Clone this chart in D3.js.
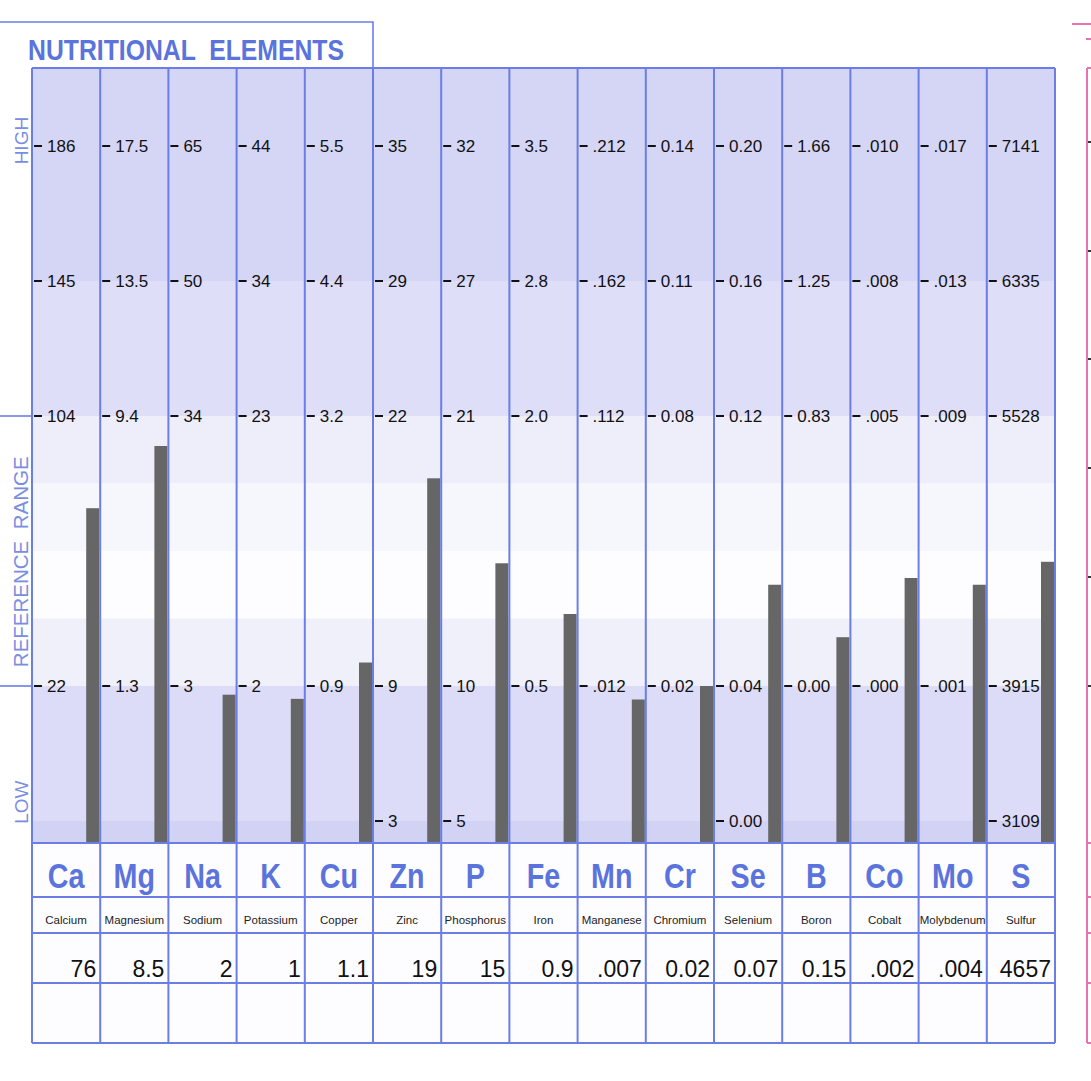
<!DOCTYPE html>
<html>
<head>
<meta charset="utf-8">
<script src="https://cdn.jsdelivr.net/npm/d3@7"></script>
<style>
  html, body { margin: 0; padding: 0; background: #ffffff; }
  svg { display: block; }
</style>
</head>
<body>
<svg id="chart" width="1091" height="1081"></svg>
<script>
// ---------------- DATA ----------------
const symbols = ["Ca","Mg","Na","K","Cu","Zn","P","Fe","Mn","Cr","Se","B","Co","Mo","S"];
const names = ["Calcium","Magnesium","Sodium","Potassium","Copper","Zinc","Phosphorus","Iron","Manganese","Chromium","Selenium","Boron","Cobalt","Molybdenum","Sulfur"];
const values = [76, 8.5, 2, 1, 1.1, 19, 15, 0.9, 0.007, 0.02, 0.07, 0.15, 0.002, 0.004, 4657];
const valueLabels = ["76","8.5","2","1","1.1","19","15","0.9",".007","0.02","0.07","0.15",".002",".004","4657"];
// tick labels per reference level (5 = top of HIGH ... 0 = bottom of LOW)
const ticksLevel5 = ["186","17.5","65","44","5.5","35","32","3.5",".212","0.14","0.20","1.66",".010",".017","7141"];
const ticksLevel4 = ["145","13.5","50","34","4.4","29","27","2.8",".162","0.11","0.16","1.25",".008",".013","6335"];
const ticksLevel3 = ["104","9.4","34","23","3.2","22","21","2.0",".112","0.08","0.12","0.83",".005",".009","5528"];
const ticksLevel1 = ["22","1.3","3","2","0.9","9","10","0.5",".012","0.02","0.04","0.00",".000",".001","3915"];
const ticksLevel0 = ["","","","","","3","5","","","","0.00","","","","3109"];
const tickLevels = [5, 4, 3, 1, 0];
// background zones in level units
const zoneBreaks = [6, 4, 3, 2.5, 2, 1.5, 1, 0, -1];
const zoneColors = ["#d5d5f6","#dedef9","#eeeefb","#f6f6fd","#fdfdff","#f0f0fb","#dcdcf8","#d2d2f4"];
const sideLabels = ["HIGH","REFERENCE  RANGE","LOW"];
const sideLabelLevels = [5.04, 1.92, 0.14];
const title = "NUTRITIONAL  ELEMENTS";

// ---------------- LAYOUT ----------------
const svg = d3.select("#chart");
const pLeft = 32, pRight = 1055, pTop = 68, plotBottom = 843;
const rowLines = [843, 897, 933, 983, 1043];
const gridColor = "#6a7ee6";
const titleColor = "#5b73dc";
const sideColor = "#7b8de2";
const barColor = "#666666";

const x = d3.scaleBand().domain(symbols).range([pLeft, pRight]).padding(0);
const yLevel = d3.scaleLinear().domain([0, 5]).range([821, 146]);

const tickRows = [ticksLevel5, ticksLevel4, ticksLevel3, ticksLevel1, ticksLevel0];
const cols = symbols.map((s, i) => {
  const ticks = [];
  tickRows.forEach((row, r) => {
    if (row[i] !== "") ticks.push({label: row[i], value: parseFloat(row[i]), level: tickLevels[r]});
  });
  const scale = d3.scaleLinear()
    .domain(ticks.map(t => t.value))
    .range(ticks.map(t => yLevel(t.level)));
  return {sym: s, name: names[i], value: values[i], vlabel: valueLabels[i], ticks, scale};
});

const plot = svg.append("g");
svg.append("clipPath").attr("id", "plotclip")
  .append("rect").attr("x", pLeft).attr("y", pTop).attr("width", pRight - pLeft).attr("height", plotBottom - pTop);

// background zones
const zones = d3.range(zoneColors.length).map(k => ({
  y0: Math.max(pTop, yLevel(zoneBreaks[k])),
  y1: Math.min(plotBottom, yLevel(zoneBreaks[k + 1])),
  c: zoneColors[k]
}));
plot.append("g").attr("clip-path", "url(#plotclip)")
  .selectAll("rect").data(zones).join("rect")
  .attr("x", pLeft).attr("width", pRight - pLeft)
  .attr("y", d => d.y0).attr("height", d => d.y1 - d.y0)
  .attr("fill", d => d.c);

// table background
svg.append("rect").attr("x", pLeft).attr("y", plotBottom).attr("width", pRight - pLeft)
  .attr("height", rowLines[4] - plotBottom).attr("fill", "#fdfdff");

// bars
const barW = 13;
plot.append("g").selectAll("rect").data(cols).join("rect")
  .attr("x", d => x(d.sym) + x.bandwidth() - barW - 1)
  .attr("width", barW)
  .attr("y", d => d.scale(d.value))
  .attr("height", d => plotBottom - d.scale(d.value))
  .attr("fill", barColor);

// grid lines
const grid = svg.append("g").attr("stroke", gridColor).attr("stroke-width", 2).attr("fill", "none");
const xEdges = symbols.map(s => x(s)).concat([pRight]);
grid.selectAll("line.v").data(xEdges).join("line").attr("class", "v")
  .attr("x1", d => d).attr("x2", d => d).attr("y1", pTop).attr("y2", rowLines[4]);
grid.append("line").attr("x1", pLeft).attr("x2", pRight).attr("y1", pTop).attr("y2", pTop);
grid.selectAll("line.h").data(rowLines).join("line").attr("class", "h")
  .attr("x1", pLeft).attr("x2", pRight).attr("y1", d => d).attr("y2", d => d);
// header box
grid.append("path").attr("stroke-width", 1.6)
  .attr("d", `M0,22 H${x("Zn")} V${pTop}`);
// reference range bracket lines
grid.selectAll("line.b").data([3, 1]).join("line").attr("class", "b")
  .attr("stroke-width", 1.6)
  .attr("x1", 0).attr("x2", pLeft).attr("y1", d => yLevel(d)).attr("y2", d => yLevel(d));

// ticks & labels
const tg = svg.append("g");
cols.forEach(c => {
  const x0 = x(c.sym);
  const g = tg.append("g");
  g.selectAll("line").data(c.ticks).join("line")
    .attr("x1", x0 + 2).attr("x2", x0 + 10)
    .attr("y1", t => yLevel(t.level)).attr("y2", t => yLevel(t.level))
    .attr("stroke", "#111").attr("stroke-width", 2);
  g.selectAll("text").data(c.ticks).join("text")
    .attr("x", x0 + 15).attr("y", t => yLevel(t.level)).attr("dy", "0.36em")
    .attr("font-family", "'Liberation Sans', Arial, sans-serif").attr("font-size", 17)
    .attr("fill", "#111").text(t => t.label);
});

// title
svg.append("text").attr("x", 28).attr("y", 60)
  .attr("font-family", "'Liberation Sans', Arial, sans-serif")
  .attr("font-weight", "bold").attr("font-size", 30).attr("fill", titleColor)
  .attr("textLength", 316).attr("lengthAdjust", "spacingAndGlyphs")
  .style("white-space", "pre")
  .text(title);

// side labels
svg.selectAll("text.side").data(sideLabels).join("text").attr("class", "side")
  .attr("transform", (d, i) => `translate(28,${yLevel(sideLabelLevels[i])}) rotate(-90)`)
  .attr("text-anchor", "middle")
  .attr("font-family", "'Liberation Sans', Arial, sans-serif")
  .attr("font-size", (d, i) => i === 1 ? 20.5 : 19)
  .attr("fill", sideColor)
  .style("white-space", "pre")
  .text(d => d);

// table texts
const tt = svg.append("g");
tt.selectAll("text.sym").data(cols).join("text").attr("class", "sym")
  .attr("transform", d => `translate(${x(d.sym) + x.bandwidth() / 2},888) scale(0.82,1)`)
  .attr("text-anchor", "middle")
  .attr("font-family", "'Liberation Sans', Arial, sans-serif")
  .attr("font-weight", "bold").attr("font-size", 35).attr("fill", titleColor)
  .text(d => d.sym);
tt.selectAll("text.name").data(cols).join("text").attr("class", "name")
  .attr("x", d => x(d.sym) + x.bandwidth() / 2).attr("y", 924)
  .attr("text-anchor", "middle")
  .attr("font-family", "'Liberation Sans', Arial, sans-serif")
  .attr("font-size", 11.5).attr("fill", "#222")
  .text(d => d.name);
tt.selectAll("text.val").data(cols).join("text").attr("class", "val")
  .attr("x", d => x(d.sym) + x.bandwidth() - 4).attr("y", 977)
  .attr("text-anchor", "end")
  .attr("font-family", "'Liberation Sans', Arial, sans-serif")
  .attr("font-size", 23).attr("fill", "#111")
  .text(d => d.vlabel);

// partial neighbouring panel (pink) at right edge
const pink = "#e873b4";
const pg = svg.append("g").attr("stroke", pink).attr("stroke-width", 2);
pg.append("line").attr("x1", 1072).attr("x2", 1091).attr("y1", 24).attr("y2", 24);
pg.append("line").attr("x1", 1086).attr("x2", 1091).attr("y1", 39).attr("y2", 39);
pg.append("line").attr("x1", 1087).attr("x2", 1087).attr("y1", pTop).attr("y2", rowLines[4]);
pg.append("line").attr("x1", 1087).attr("x2", 1091).attr("y1", pTop).attr("y2", pTop);
pg.selectAll("line.r").data(rowLines).join("line").attr("class", "r")
  .attr("x1", 1087).attr("x2", 1091).attr("y1", d => d).attr("y2", d => d);
const pinkTicks = [142, 251, 359, 468, 577, 686];
svg.append("g").selectAll("line").data(pinkTicks).join("line")
  .attr("x1", 1088).attr("x2", 1091).attr("y1", d => d).attr("y2", d => d)
  .attr("stroke", "#333").attr("stroke-width", 2);
</script>
</body>
</html>
